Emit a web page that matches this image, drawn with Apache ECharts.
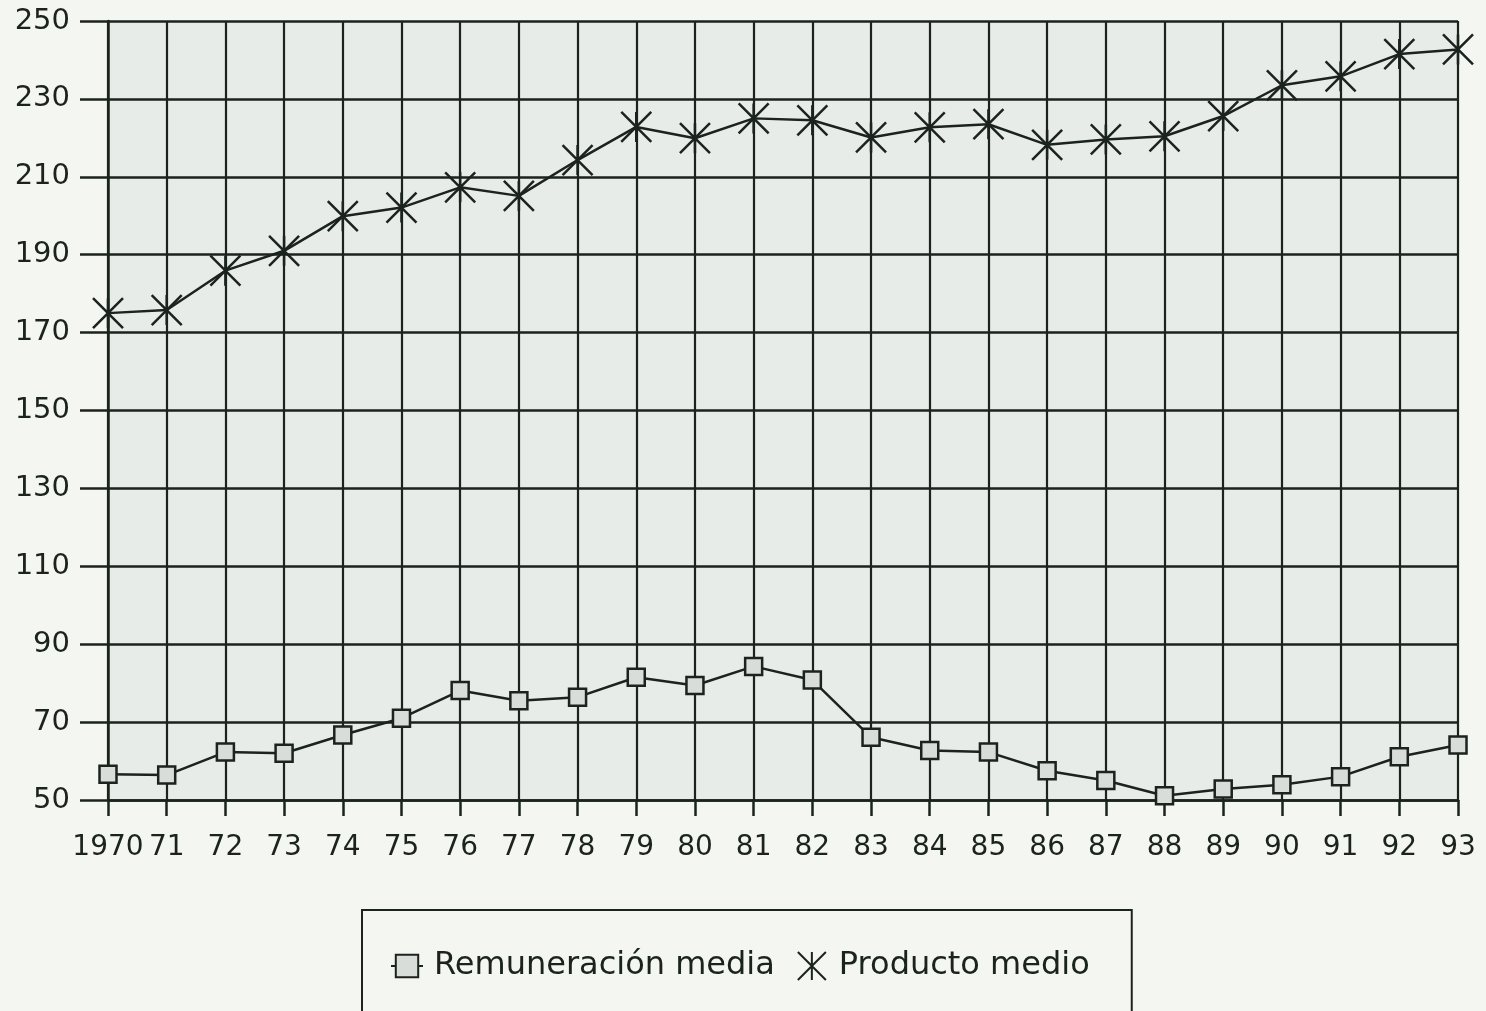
<!DOCTYPE html>
<html>
<head>
<meta charset="utf-8">
<script src="https://cdn.jsdelivr.net/npm/echarts@6/dist/echarts.min.js"></script>
<style>
  html, body { margin: 0; padding: 0; background: #f4f6f1; }
  #main { width: 1486px; height: 1011px; }
</style>
</head>
<body>
<div id="main"></div>
<script>
// años
const years = ['1970', '71', '72', '73', '74', '75', '76', '77', '78', '79', '80', '81',
  '82', '83', '84', '85', '86', '87', '88', '89', '90', '91', '92', '93'];

const remuneracion = [56.6, 56.4, 62.3, 62.0, 66.7, 71.0, 78.1, 75.5, 76.4, 81.5, 79.4, 84.3,
  80.8, 66.1, 62.7, 62.3, 57.5, 55.0, 51.1, 52.8, 53.9, 56.0, 61.1, 64.1];

const producto = [175.0, 175.8, 185.9, 191.0, 199.9, 202.1, 207.3, 205.1, 214.3, 222.8, 219.9, 225.0,
  224.5, 220.1, 222.7, 223.5, 218.2, 219.6, 220.4, 225.6, 233.5, 235.8, 241.5, 242.7];

const ink = '#1b231e';
const asterisk = 'path://M0,0L24,24M24,0L0,24M12,0L12,24';

const chart = echarts.init(document.getElementById('main'));

const option = {
  backgroundColor: '#f4f6f1',
  textStyle: { fontFamily: 'DejaVu Sans' },
  grid: {
    left: 108,
    right: 28,
    top: 21,
    bottom: 211,
    backgroundColor: '#e8ece8',
    show: true,
    borderWidth: 0
  },
  legend: {
    left: 362,
    top: 910,
    padding: [40, 42, 80, 28],
    itemGap: 22,
    itemWidth: 32,
    itemHeight: 28,
    borderColor: ink,
    borderWidth: 2,
    textStyle: { fontSize: 32, color: ink, fontFamily: 'DejaVu Sans', padding: [0, 0, 0, 6] },
    data: [
      { name: 'Remuneración media' },
      { name: 'Producto medio', icon: asterisk }
    ]
  },
  xAxis: {
    type: 'category',
    data: years,
    boundaryGap: false,
    axisLine: { lineStyle: { color: ink, width: 2.5 } },
    axisTick: { show: true, length: 16, interval: 0, lineStyle: { color: ink, width: 2.5 } },
    axisLabel: { interval: 0, margin: 34, fontSize: 28, color: ink },
    splitLine: { show: true, interval: 0, lineStyle: { color: ink, width: 2.2 } }
  },
  yAxis: {
    type: 'value',
    min: 50,
    max: 250,
    interval: 20,
    axisLine: { show: true, lineStyle: { color: ink, width: 2.5 } },
    axisTick: { show: true, length: 28, lineStyle: { color: ink, width: 2.5 } },
    axisLabel: { margin: 38, fontSize: 29, color: ink },
    splitLine: { show: true, lineStyle: { color: ink, width: 2.5 } }
  },
  series: [
    {
      name: 'Remuneración media',
      type: 'line',
      data: remuneracion,
      symbol: 'rect',
      symbolSize: 17,
      lineStyle: { color: ink, width: 2.5 },
      itemStyle: { color: '#d9ddd9', borderColor: ink, borderWidth: 2.5 },
      z: 3
    },
    {
      name: 'Producto medio',
      type: 'line',
      data: producto,
      symbol: asterisk,
      symbolSize: [30, 30],
      lineStyle: { color: ink, width: 2.5 },
      itemStyle: { color: ink, borderColor: ink, borderWidth: 2.5 },
      z: 3
    }
  ]
};

chart.setOption(option);
</script>
</body>
</html>
